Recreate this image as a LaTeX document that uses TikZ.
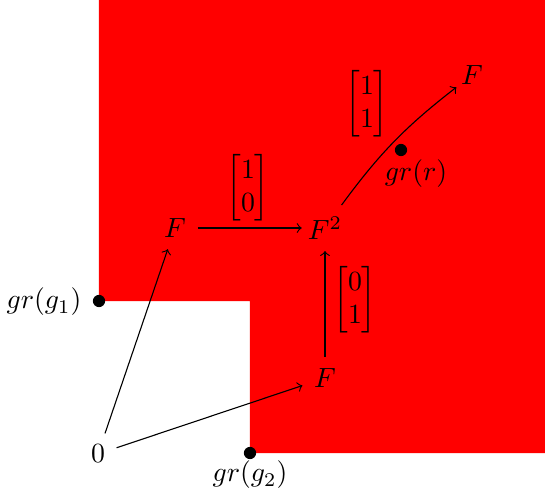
\documentclass[tikz,border=0pt]{standalone}
\usepackage{amsmath}
\begin{document}
\begin{tikzpicture}[x=0.36pt,y=-0.36pt,
  obj/.style={inner sep=4pt},
  dot/.style={circle,fill=black,inner sep=0pt,minimum size=4.4pt},
  arr/.style={->},
  lab/.style={inner sep=1pt}]
\useasboundingbox (0,0) rectangle (545,492);
\fill[red] (99,0) -- (545,0) -- (545,453) -- (250,453) -- (250,301) -- (99,301) -- cycle;
\node[dot] (d1) at (99,301) {};
\node[dot] (d2) at (250,453) {};
\node[dot] (d3) at (401,150) {};
\node[anchor=east,inner sep=0pt] (g1) at (82,302) {$gr(g_1)$};
\node (g2) at (250,475) {$gr(g_2)$};
\node (gr) at (416,174) {$gr(r)$};
\node[obj] (zero) at (98,454) {$0$};
\node[obj] (Fa) at (175,228) {$F$};
\node[obj,inner xsep=2pt] (F2) at (325,228) {$F^2$};
\node[obj,inner sep=1.5pt] (Fb) at (472,75) {$F$};
\node[obj] (Fc) at (325,378) {$F$};
\draw[arr] (Fa) -- (F2);
\draw[arr] (F2) to[bend left=8] (Fb);
\draw[arr] (zero) -- (Fa);
\draw[arr] (zero) -- (Fc);
\draw[arr] (Fc) -- (F2);
\node[lab] (m1) at (248,188) {$\begin{bmatrix}1\\0\end{bmatrix}$};
\node[lab] (m2) at (367,104) {$\begin{bmatrix}1\\1\end{bmatrix}$};
\node[lab] (m3) at (355,300) {$\begin{bmatrix}0\\1\end{bmatrix}$};
\end{tikzpicture}
\end{document}
